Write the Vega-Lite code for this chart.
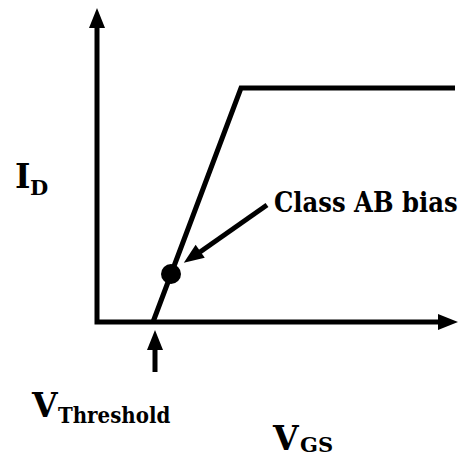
{
  "$schema": "https://vega.github.io/schema/vega-lite/v6.json",
  "width": 463,
  "height": 462,
  "autosize": "none",
  "padding": 0,
  "background": "white",
  "config": {"view": {"stroke": null}},
  "datasets": {
    "lines": [
      {"part": "axes", "o": 1, "x": 0, "y": 298},
      {"part": "axes", "o": 2, "x": 0, "y": 0},
      {"part": "axes", "o": 3, "x": 343, "y": 0},
      {"part": "curve", "o": 1, "x": 56, "y": 0},
      {"part": "curve", "o": 2, "x": 144, "y": 234},
      {"part": "curve", "o": 3, "x": 358, "y": 234},
      {"part": "vth", "o": 1, "x": 58, "y": -50},
      {"part": "vth", "o": 2, "x": 58, "y": -26},
      {"part": "ab", "o": 1, "x": 170, "y": 117},
      {"part": "ab", "o": 2, "x": 103, "y": 70}
    ],
    "heads": [
      {"x": 0, "y": 304, "dir": 0},
      {"x": 351, "y": 0, "dir": 90},
      {"x": 58, "y": -18, "dir": 0},
      {"x": 95, "y": 65, "dir": 235}
    ],
    "bias": [{"x": 74, "y": 48}],
    "labels": [
      {"role": "main", "t": "I", "x": -82, "y": 134},
      {"role": "sub", "t": "D", "x": -67, "y": 127},
      {"role": "main", "t": "V", "x": -65, "y": -95},
      {"role": "th", "t": "Threshold", "x": -39, "y": -101},
      {"role": "main", "t": "V", "x": 176, "y": -128},
      {"role": "sub", "t": "GS", "x": 203, "y": -130},
      {"role": "note", "t": "Class AB bias", "x": 177, "y": 110}
    ]
  },
  "encoding": {
    "x": {"field": "x", "type": "quantitative", "axis": null, "scale": {"domain": [-97, 366], "nice": false, "zero": false}},
    "y": {"field": "y", "type": "quantitative", "axis": null, "scale": {"domain": [-140, 322], "nice": false, "zero": false}}
  },
  "layer": [
    {
      "data": {"name": "lines"},
      "mark": {"type": "line", "color": "black", "strokeWidth": 5, "strokeJoin": "miter", "strokeCap": "butt"},
      "encoding": {
        "detail": {"field": "part"},
        "order": {"field": "o", "type": "quantitative"}
      }
    },
    {
      "data": {"name": "heads"},
      "mark": {"type": "point", "shape": "M0,-1L0.8,1L-0.8,1Z", "size": 400, "filled": true, "color": "black", "opacity": 1, "strokeWidth": 0},
      "encoding": {
        "angle": {"field": "dir", "type": "quantitative", "scale": null}
      }
    },
    {
      "data": {"name": "bias"},
      "mark": {"type": "point", "shape": "circle", "size": 400, "filled": true, "color": "black", "opacity": 1}
    },
    {
      "data": {"name": "labels"},
      "transform": [{"filter": "datum.role == 'main'"}],
      "mark": {"type": "text", "font": "DejaVu Serif", "fontWeight": "bold", "fontSize": 33, "align": "left", "baseline": "alphabetic", "color": "black"},
      "encoding": {"text": {"field": "t"}}
    },
    {
      "data": {"name": "labels"},
      "transform": [{"filter": "datum.role == 'sub'"}],
      "mark": {"type": "text", "font": "DejaVu Serif", "fontWeight": "bold", "fontSize": 21, "align": "left", "baseline": "alphabetic", "color": "black"},
      "encoding": {"text": {"field": "t"}}
    },
    {
      "data": {"name": "labels"},
      "transform": [{"filter": "datum.role == 'th'"}],
      "mark": {"type": "text", "font": "DejaVu Serif Condensed", "fontWeight": "bold", "fontSize": 22, "align": "left", "baseline": "alphabetic", "color": "black"},
      "encoding": {"text": {"field": "t"}}
    },
    {
      "data": {"name": "labels"},
      "transform": [{"filter": "datum.role == 'note'"}],
      "mark": {"type": "text", "font": "DejaVu Serif Condensed", "fontWeight": "bold", "fontSize": 27, "align": "left", "baseline": "alphabetic", "color": "black"},
      "encoding": {"text": {"field": "t"}}
    }
  ]
}
